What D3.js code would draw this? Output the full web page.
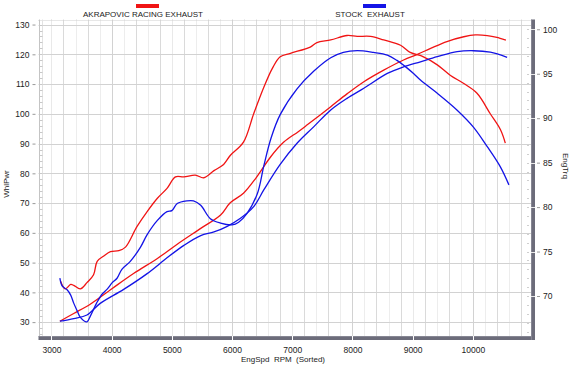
<!DOCTYPE html>
<html><head><meta charset="utf-8">
<script src="https://cdn.jsdelivr.net/npm/d3@7"></script>
<style>
body{margin:0;background:#fff}
svg{display:block;font-family:"Liberation Sans",Arial,Helvetica,sans-serif}
</style>
</head><body>
<svg id="c" width="570" height="366"></svg>
<script>
// ---- data ----
const seriesNames = ["AKRAPOVIC RACING EXHAUST", "STOCK  EXHAUST"];
const xTickLabels = [3000,4000,5000,6000,7000,8000,9000,10000];
const pwrTickLabels = [30,40,50,60,70,80,90,100,110,120,130];
const trqTickLabels = [70,75,80,85,90,95,100];

const akraRpmPwr = [3140,3370,3650,4010,4370,4760,5090,5480,5810,5970,6190,6400,6640,6860,7100,7250,7640,7910,8190,8520,8850,9080,9300,9570,9850,10040,10240,10400,10550];
const akraPwr    = [30.3,32.9,36.1,41.3,46.4,51.4,56.2,61.5,66.0,70.1,73.3,78.5,85.5,90.5,94.0,96.3,102.4,106.7,110.8,114.7,118.1,120.0,122.0,124.3,125.9,126.5,126.3,125.7,124.8];

const stockRpmPwr = [3140,3370,3590,3810,4200,4590,4920,5200,5480,5700,5920,6140,6360,6530,6800,7080,7360,7640,7910,8190,8580,8850,9130,9410,9740,10010,10290,10570];
const stockPwr    = [30.3,31.2,32.4,36.3,41.0,46.3,51.6,55.8,59.1,60.3,62.2,64.9,68.8,74.5,83.0,90.1,95.7,101.3,105.2,108.6,113.6,115.8,117.5,119.2,120.9,121.2,120.7,119.0];

const akraRpmTrq = [3150,3230,3320,3370,3480,3590,3700,3760,3870,3980,4120,4230,4420,4590,4760,4920,5060,5200,5390,5530,5700,5860,5970,6190,6360,6530,6670,6800,6970,7300,7410,7640,7910,8080,8300,8520,8800,8960,9180,9410,9630,9850,10070,10290,10460,10540];
const akraTrq    = [71.7,70.8,71.3,71.2,70.8,71.5,72.4,73.9,74.5,75.0,75.1,75.5,77.8,79.5,81.0,82.1,83.4,83.4,83.6,83.3,84.1,84.8,85.8,87.3,90.5,93.5,95.6,96.9,97.3,98.0,98.5,98.8,99.3,99.2,99.2,98.8,98.2,97.4,96.9,96.0,94.8,93.9,92.8,90.5,88.7,87.2];

const stockRpmTrq = [3140,3180,3260,3320,3370,3430,3480,3590,3650,3750,3840,3930,4010,4090,4170,4310,4480,4590,4760,4920,5000,5090,5250,5360,5480,5640,5810,6000,6110,6250,6420,6530,6650,6800,7080,7360,7640,7850,8080,8350,8580,8740,8880,9020,9130,9410,9740,10010,10240,10460,10600];
const stockTrq    = [72.0,71.1,70.7,70.1,69.2,68.3,67.6,67.1,67.8,69.2,70.2,70.8,71.5,72.0,73.0,73.9,75.5,76.9,78.5,79.5,79.6,80.4,80.7,80.7,80.2,78.7,78.2,78.0,78.3,79.3,81.5,84.7,87.8,90.4,93.3,95.3,96.8,97.4,97.6,97.4,97.1,96.5,95.8,95.0,94.3,92.8,90.9,89.0,86.8,84.5,82.5];

const colors = ["#f01414", "#1414e6"];

// ---- scales ----
const svg = d3.select("#c");
const L = 38.5, R = 533, T = 19.5, B = 337;
const x  = d3.scaleLinear().domain([2785, 11000]).range([L, R]);
const yP = d3.scaleLinear().domain([25, 131.7]).range([B, T]);
const yT = d3.scaleLinear().domain([65.39, 101.1]).range([B, T]);
const px = v => Math.round(v) + 0.5;

// ---- grid ----
const grid = svg.append("g");
grid.selectAll(".vg").data(d3.range(3000, 10801, 200)).join("line")
  .attr("x1", d => px(x(d))).attr("x2", d => px(x(d)))
  .attr("y1", T).attr("y2", B)
  .attr("stroke", (d,i) => (d % 1000 === 0) ? "#d2d2d2" : "#dadada")
  .attr("stroke-dasharray", (d) => (d % 400 === 200) ? "1,1" : null)
  .attr("stroke-width", 1);
grid.selectAll(".hg").data(pwrTickLabels).join("line")
  .attr("x1", L).attr("x2", R)
  .attr("y1", d => px(yP(d))).attr("y2", d => px(yP(d)))
  .attr("stroke", "#d2d2d2").attr("stroke-width", 1);
// top border dotted
grid.append("line").attr("x1", L).attr("x2", R).attr("y1", px(T)).attr("y2", px(T))
  .attr("stroke", "#cfcfcf").attr("stroke-dasharray", "1,1");

// left axis band
svg.append("line").attr("x1", px(L)).attr("x2", px(L)).attr("y1", T).attr("y2", B+2)
  .attr("stroke", "#c4c4c4");
svg.append("line").attr("x1", px(L)+3).attr("x2", px(L)+3).attr("y1", T).attr("y2", B)
  .attr("stroke", "#e2e2e2");
svg.append("g").selectAll("line").data(d3.range(26, 131, 2)).join("line")
  .attr("x1", px(L)).attr("x2", px(L)+3)
  .attr("y1", d => px(yP(d))).attr("y2", d => px(yP(d)))
  .attr("stroke", "#c8c8c8");

// ---- lines ----
const mk = (xs, ys, yScale) => d3.line().curve(d3.curveCatmullRom.alpha(0.5))
  .x((d,i) => x(xs[i])).y((d,i) => yScale(ys[i]))(ys);
const lines = svg.append("g").attr("fill", "none").attr("stroke-width", 1.3)
  .attr("stroke-linejoin", "round");
lines.append("path").attr("d", mk(akraRpmPwr, akraPwr, yP)).attr("stroke", colors[0]);
lines.append("path").attr("d", mk(akraRpmTrq, akraTrq, yT)).attr("stroke", colors[0]);
lines.append("path").attr("d", mk(stockRpmPwr, stockPwr, yP)).attr("stroke", colors[1]);
lines.append("path").attr("d", mk(stockRpmTrq, stockTrq, yT)).attr("stroke", colors[1]);

// ---- bottom bar axis ----
const barCol = "#6c6c7a";
svg.append("rect").attr("x", L).attr("y", B - 1).attr("width", R + 2 - L).attr("height", 4).attr("fill", barCol);
svg.append("line").attr("x1", L).attr("x2", R + 2).attr("y1", B - 0.5).attr("y2", B - 0.5)
  .attr("stroke", "#a0a0ac").attr("stroke-dasharray", "1,1");
svg.append("g").selectAll("line").data(xTickLabels).join("line")
  .attr("x1", d => px(x(d))).attr("x2", d => px(x(d)))
  .attr("y1", B - 1).attr("y2", B + 3).attr("stroke", "#fff");

// right bar axis
svg.append("rect").attr("x", R - 2).attr("y", T).attr("width", 4).attr("height", B + 3 - T).attr("fill", barCol);
svg.append("line").attr("x1", R - 1.5).attr("x2", R - 1.5).attr("y1", T).attr("y2", B + 3)
  .attr("stroke", "#a0a0ac").attr("stroke-dasharray", "1,1");
svg.append("g").selectAll("line").data(d3.range(66, 101, 1)).join("line")
  .attr("x1", R - 6).attr("x2", R - 4)
  .attr("y1", d => px(yT(d))).attr("y2", d => px(yT(d)))
  .attr("stroke", "#cfcfcf");
svg.append("g").selectAll("line").data(trqTickLabels).join("line")
  .attr("x1", R - 2).attr("x2", R + 2)
  .attr("y1", d => px(yT(d))).attr("y2", d => px(yT(d)))
  .attr("stroke", "#e8e8e8");

// ---- axes labels via d3 axes ----
function styleAxis(g) {
  g.select(".domain").remove();
  g.selectAll("text").attr("fill", "#222").style("font-size", "8.5px");
  g.selectAll(".tick line").attr("stroke", "#999");
}
svg.append("g").attr("transform", `translate(0,${B})`)
  .call(d3.axisBottom(x).tickValues(xTickLabels).tickSize(0).tickPadding(10).tickFormat(d3.format("d")))
  .call(styleAxis);
svg.append("g").attr("transform", `translate(${L - 3},0)`)
  .call(d3.axisLeft(yP).tickValues(pwrTickLabels).tickSize(3).tickPadding(3).tickFormat(d3.format("d")))
  .call(styleAxis);
svg.append("g").attr("transform", `translate(${R + 4},0)`)
  .call(d3.axisRight(yT).tickValues(trqTickLabels).tickSize(3).tickPadding(3).tickFormat(d3.format("d")))
  .call(styleAxis);

// ---- titles ----
svg.append("text").attr("x", 283).attr("y", 362).attr("text-anchor", "middle")
  .style("font-size", "8px").attr("fill", "#222").attr("xml:space", "preserve")
  .text("EngSpd  RPM  (Sorted)");
svg.append("text").attr("transform", "translate(9,184) rotate(-90)").attr("text-anchor", "middle")
  .style("font-size", "8px").attr("fill", "#222").text("WhlPwr");
svg.append("text").attr("transform", "translate(563,166) rotate(90)").attr("text-anchor", "middle")
  .style("font-size", "8px").attr("fill", "#222").text("EngTrq");

// ---- legend ----
const legX = [143, 370], barX = [136, 363];
seriesNames.forEach((n, i) => {
  svg.append("rect").attr("x", barX[i]).attr("y", 4).attr("width", 23).attr("height", 4).attr("fill", colors[i]);
  svg.append("text").attr("x", legX[i]).attr("y", 17).attr("text-anchor", "middle")
    .attr("xml:space", "preserve").style("font-size", "8px").attr("fill", "#222").text(n);
});
</script>
</body></html>
